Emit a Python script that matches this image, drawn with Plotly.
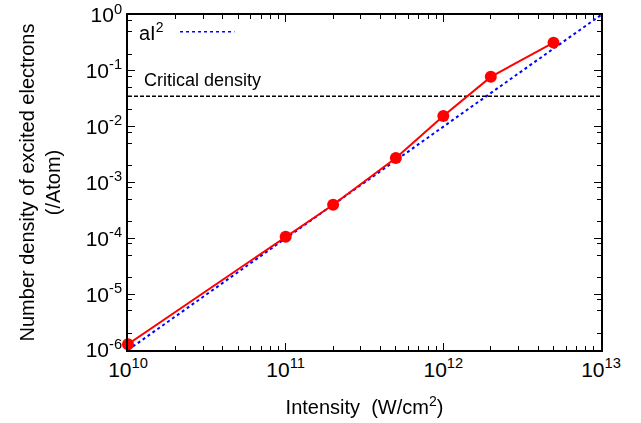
import numpy as np
import plotly.graph_objects as go

# Data
intensity = [1e10, 1e11, 2e11, 5e11, 1e12, 2e12, 5e12]
density = [1.27e-6, 1.07e-4, 4.0e-4, 2.75e-3, 1.55e-2, 7.8e-2, 0.32]
fit_coeff = 1e-26  # a in a*I^2
fit_x = [1e10, 1e13]
critical_density = 0.035

x_tickvals = [1e10, 1e11, 1e12, 1e13]
x_ticktext = ["10<sup>10</sup>", "10<sup>11</sup>", "10<sup>12</sup>", "10<sup>13</sup>"]
y_tickvals = [1e-6, 1e-5, 1e-4, 1e-3, 1e-2, 1e-1, 1e0]
y_ticktext = ["10<sup>-6</sup>", "10<sup>-5</sup>", "10<sup>-4</sup>", "10<sup>-3</sup>",
              "10<sup>-2</sup>", "10<sup>-1</sup>", "10<sup>0</sup>"]
x_minor_digits = [2, 3, 4, 5, 6, 7, 8, 9]
y_minor_digits = [2, 5, 8]

x_minor = [d * 10.0 ** e for e in range(10, 13) for d in x_minor_digits]
y_minor = [d * 10.0 ** e for e in range(-6, 0) for d in y_minor_digits]

FONT = "Liberation Sans, Arial, Helvetica, sans-serif"

fig = go.Figure()

# a*I^2 fit
fit_y = [fit_coeff * v ** 2 for v in fit_x]
fig.add_trace(go.Scatter(x=fit_x, y=fit_y, mode="lines",
                         line=dict(color="#0000ff", width=2, dash="dot"),
                         showlegend=False))

# critical density line
fig.add_trace(go.Scatter(x=[1e10, 1e13], y=[critical_density, critical_density], mode="lines",
                         line=dict(color="black", width=1.5, dash="4px,2px"),
                         showlegend=False))

# data
fig.add_trace(go.Scatter(x=intensity, y=density, mode="lines+markers",
                         line=dict(color="#ff0000", width=2),
                         marker=dict(color="#ff0000", size=12, symbol="circle"),
                         showlegend=False, cliponaxis=False))

# invisible helper trace on the minor-tick axes
fig.add_trace(go.Scatter(x=[1e10, 1e13], y=[1e-6, 1e0], mode="markers", opacity=0,
                         xaxis="x2", yaxis="y2", showlegend=False, hoverinfo="skip"))

axis_common = dict(
    type="log", showgrid=False, zeroline=False, automargin=False,
    showline=True, linecolor="black", linewidth=1.5, mirror="ticks",
    ticks="inside", ticklen=7, tickwidth=1.2, tickcolor="black",
    tickfont=dict(family=FONT, size=21, color="black"),
)
minor_common = dict(
    type="log", tickmode="array", ticks="inside", ticklen=4, tickwidth=1.2,
    tickcolor="black", showticklabels=False, showgrid=False, zeroline=False,
    showline=False, mirror="ticks", automargin=False,
)

fig.update_layout(
    xaxis=dict(**axis_common, range=[10, 13], tickmode="array",
               tickvals=x_tickvals, ticktext=x_ticktext,
               title=dict(text="Intensity  (W/cm<sup>2</sup>)",
                          font=dict(family=FONT, size=20, color="black"), standoff=20)),
    yaxis=dict(**axis_common, range=[-6, 0], tickmode="array",
               tickvals=y_tickvals, ticktext=y_ticktext,
               title=dict(text="Number density of excited electrons<br>(/Atom)",
                          font=dict(family=FONT, size=20, color="black"), standoff=20)),
    xaxis2=dict(**minor_common, range=[10, 13], overlaying="x", anchor="y2", tickvals=x_minor),
    yaxis2=dict(**minor_common, range=[-6, 0], overlaying="y", anchor="x2", tickvals=y_minor),
)

# Legend-like key (text then sample line)
fig.add_annotation(xref="paper", yref="paper", x=0.02, y=0.95, xanchor="left", yanchor="middle",
                   text="aI<sup>2</sup>", showarrow=False,
                   font=dict(family=FONT, size=20, color="black"))
fig.add_shape(type="line", xref="paper", yref="paper", x0=0.11, x1=0.225, y0=0.95, y1=0.95,
              line=dict(color="#0000ff", width=1.5, dash="dot"))

fig.add_annotation(xref="paper", yref="paper", x=0.03, y=0.805, xanchor="left", yanchor="middle",
                   text="Critical density", showarrow=False,
                   font=dict(family=FONT, size=18, color="black"))

fig.update_layout(
    width=641, height=423,
    margin=dict(l=128, r=40, t=15, b=73),
    plot_bgcolor="white", paper_bgcolor="white",
    font=dict(family=FONT, color="black"),
)

fig.write_html("out.html")
